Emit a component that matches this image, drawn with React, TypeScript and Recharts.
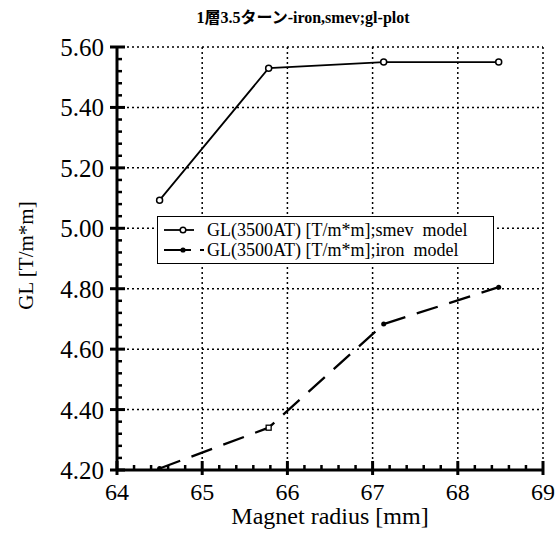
import { LineChart, Line, XAxis, YAxis, CartesianGrid } from 'recharts';

const radius = [64.5, 65.78, 67.13, 68.48];
const glSmev = [5.093, 5.53, 5.55, 5.55];
const glIron = [4.205, 4.34, 4.683, 4.805];

const xMajor = [64, 65, 66, 67, 68, 69];
const yMajor = [4.2, 4.4, 4.6, 4.8, 5.0, 5.2, 5.4, 5.6];

const seriesNames = [
  'GL(3500AT) [T/m*m];smev  model',
  'GL(3500AT) [T/m*m];iron  model',
];
const title = '1層3.5ターン-iron,smev;gl-plot';

const FONT = '"Liberation Serif", Tinos, "DejaVu Serif", serif, "Noto Sans CJK JP"';

// major ticks plus 4 minor ticks between each pair
const withMinor = (major: number[]) => {
  const out: number[] = [];
  for (let i = 0; i < major.length - 1; i++) {
    for (let k = 0; k < 5; k++) out.push(+(major[i] + (k * (major[i + 1] - major[i])) / 5).toFixed(3));
  }
  out.push(major[major.length - 1]);
  return out;
};
const xTicks = withMinor(xMajor);
const yTicks = withMinor(yMajor);

const data = radius.map((r, i) => ({ r, smev: glSmev[i], iron: glIron[i] }));

const isIn = (v: number, list: number[]) => list.some((m) => Math.abs(m - v) < 1e-6);

const renderXTick = (props: any) => {
  const { x, y, payload } = props;
  const major = isIn(payload.value, xMajor);
  return (
    <g>
      <line x1={x} x2={x} y1={y + (major ? 5 : 0)} y2={y - (major ? 9 : 5)} stroke="#000" strokeWidth={major ? 3 : 2.5} />
      {major && (
        <text x={x} y={y + 30} textAnchor="middle" fontFamily={FONT} fontSize={24} fill="#000">
          {payload.value}
        </text>
      )}
    </g>
  );
};

const renderYTick = (props: any) => {
  const { x, y, payload } = props;
  const major = isIn(payload.value, yMajor);
  return (
    <g>
      <line x1={x - (major ? 7 : 0)} x2={x + (major ? 8 : 5)} y1={y} y2={y} stroke="#000" strokeWidth={major ? 3 : 2.5} />
      {major && (
        <text x={x - 13} y={y + 9} textAnchor="end" fontFamily={FONT} fontSize={25} fill="#000">
          {Number(payload.value).toFixed(2)}
        </text>
      )}
    </g>
  );
};

function SmevDot(props: any) {
  const { cx, cy } = props;
  return <circle cx={cx} cy={cy} r={3} fill="#fff" stroke="#000" strokeWidth={1.5} />;
}

function IronDot(props: any) {
  const { cx, cy, index } = props;
  if (index === 1) {
    return <rect x={cx - 2.5} y={cy - 2.5} width={5} height={5} fill="#fff" stroke="#000" strokeWidth={1.3} />;
  }
  return <circle cx={cx} cy={cy} r={2.5} fill="#000" />;
}

function LegendBox() {
  const row = (i: number) => (
    <div key={i} style={{ display: 'flex', alignItems: 'center', height: 20 }}>
      <svg width={49} height={20}>
        {i === 0 ? (
          <>
            <line x1={6} x2={36} y1={10} y2={10} stroke="#000" strokeWidth={1.8} />
            <circle cx={25} cy={10} r={2.8} fill="#fff" stroke="#000" strokeWidth={1.5} />
          </>
        ) : (
          <>
            <line x1={6} x2={33} y1={10} y2={10} stroke="#000" strokeWidth={2} />
            <circle cx={25} cy={10} r={2.6} fill="#000" />
            <line x1={42} x2={46} y1={10} y2={10} stroke="#000" strokeWidth={2} />
          </>
        )}
      </svg>
      <span style={{ fontFamily: FONT, fontSize: 18, lineHeight: '20px', whiteSpace: 'pre', color: '#000' }}>
        {seriesNames[i]}
      </span>
    </div>
  );
  return (
    <div
      style={{
        position: 'absolute',
        left: 157,
        top: 216,
        boxSizing: 'border-box',
        width: 337,
        height: 48,
        border: '1.5px solid #000',
        background: '#fff',
        paddingTop: 3,
      }}
    >
      {row(0)}
      {row(1)}
    </div>
  );
}

export default function App() {
  return (
    <div style={{ position: 'absolute', left: 0, top: 0, width: 558, height: 534, background: '#fff' }}>
      <LineChart width={558} height={534} data={data} margin={{ top: 47, right: 15, bottom: 0, left: 0 }}>
        <CartesianGrid
          stroke="#000"
          strokeWidth={1.5}
          strokeDasharray="2 3"
          horizontalValues={yMajor}
          verticalValues={xMajor}
        />
        <XAxis
          dataKey="r"
          type="number"
          domain={[64, 69]}
          ticks={xTicks}
          interval={0}
          height={64}
          tickSize={0}
          tickMargin={0}
          tickLine={false}
          axisLine={{ stroke: '#000', strokeWidth: 3 }}
          tick={renderXTick}
          label={{ value: 'Magnet radius [mm]', position: 'insideBottom', offset: 10, fontFamily: FONT, fontSize: 24, fill: '#000' }}
        />
        <XAxis
          xAxisId="top"
          orientation="top"
          type="number"
          domain={[64, 69]}
          height={0}
          tick={false}
          tickLine={false}
          axisLine={{ stroke: '#000', strokeWidth: 2.5 }}
        />
        <YAxis
          type="number"
          domain={[4.2, 5.6]}
          ticks={yTicks}
          interval={0}
          width={117}
          tickSize={0}
          tickMargin={0}
          tickLine={false}
          axisLine={{ stroke: '#000', strokeWidth: 3 }}
          tick={renderYTick}
          label={(p: any) => {
            const vb = p.viewBox || { x: 0, y: 47, width: 117, height: 423 };
            const cx = 33;
            const cy = vb.y + vb.height / 2 - 3;
            return (
              <text
                x={cx}
                y={cy}
                transform={`rotate(-90, ${cx}, ${cy})`}
                textAnchor="middle"
                fontFamily={FONT}
                fontSize={21}
                fill="#000"
              >
                GL [T/m*m]
              </text>
            );
          }}
        />
        <YAxis
          yAxisId="right"
          orientation="right"
          type="number"
          domain={[4.2, 5.6]}
          width={0}
          tick={false}
          tickLine={false}
          axisLine={{ stroke: '#000', strokeWidth: 3 }}
        />
        <Line
          dataKey="smev"
          stroke="#000"
          strokeWidth={1.8}
          dot={<SmevDot />}
          activeDot={false}
          isAnimationActive={false}
        />
        <Line
          dataKey="iron"
          stroke="#000"
          strokeWidth={2.3}
          strokeDasharray="22 12"
          dot={<IronDot />}
          activeDot={false}
          isAnimationActive={false}
        />
      </LineChart>
      <div
        style={{
          position: 'absolute',
          left: 0,
          top: 8,
          width: 606,
          textAlign: 'center',
          fontFamily: FONT,
          fontSize: 16,
          fontWeight: 'bold',
          lineHeight: '20px',
        }}
      >
        {title}
      </div>
      <LegendBox />
    </div>
  );
}
